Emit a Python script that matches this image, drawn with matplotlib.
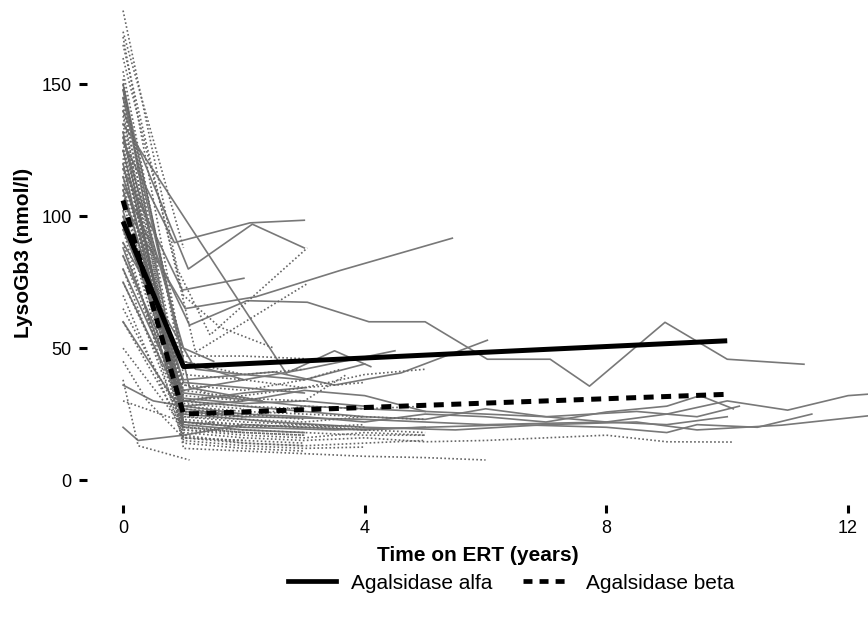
import matplotlib
matplotlib.use("Agg")
import matplotlib.pyplot as plt
from matplotlib.lines import Line2D

plt.rcParams['font.family'] = ['Liberation Sans', 'DejaVu Sans']

# Agalsidase alfa patients: time (years) and LysoGb3 (nmol/l)
alfa_x = [
    [0, 0.85, 2.1, 3.0],
    [0, 1.08, 2.14, 3.0],
    [0, 0.98, 2.0],
    [0, 1.03, 2.2, 3.6, 5.45],
    [0, 1.1, 2.05, 3.05, 4.07, 5.0, 6.03, 7.07, 7.72, 8.97, 10.0, 11.27],
    [0, 2.7, 3.5, 4.1],
    [0, 1.0, 2.5, 3.5, 4.6, 6.03],
    [0, 1.0, 2.0, 3.0, 4.5],
    [0, 1.0, 2.0, 3.0, 4.0, 5.0, 6.0, 7.0, 8.0, 9.0, 10.0, 11.0, 12.0, 12.6],
    [0, 1.0, 2.5, 4.0, 5.5, 7.0, 8.5, 9.5, 10.9, 12.6],
    [0, 1.0, 2.0, 3.0, 4.0, 5.0, 6.0, 7.0, 8.0, 9.0, 9.55, 10.1],
    [0, 1.0, 2.0, 3.5, 5.0, 6.5, 8.0, 9.0, 9.5, 10.5, 11.4],
    [0, 0.25, 1.0, 2.0, 3.0, 4.0, 5.0],
    [0, 1.0, 2.0],
    [0, 1.1, 2.3],
    [0, 1.0, 2.0, 3.0],
    [0, 0.9],
    [0, 1.2, 2.0, 3.0, 4.0],
    [0, 1.0, 2.0, 3.0, 4.0, 5.0],
    [0, 1.0, 3.0, 5.0, 7.0, 8.5, 9.5, 10.2],
    [0, 1.0, 2.0, 4.0, 6.0, 8.0, 9.0, 10.0],
    [0, 1.0, 1.5],
    [0, 0.5, 1.0],
    [0, 1.0, 2.0, 3.0],
    [0, 1.0, 2.0, 3.0, 4.0],
    [0, 1.0, 2.0],
    [0, 1.0, 2.0, 3.0],
]
alfa_y = [
    [128, 90, 97.5, 98.5],
    [140, 80, 97, 88],
    [118, 72, 76.5],
    [105, 65, 69.5, 79.5, 91.7],
    [112, 58.7, 68, 67.4, 60, 60, 45.8, 45.8, 35.6, 59.8, 45.8, 43.9],
    [135, 40.5, 49, 43],
    [95, 38, 41, 36, 40.6, 53],
    [85, 34, 38, 42, 49],
    [80, 30, 28, 26, 24, 23, 27, 24, 22, 25, 30, 26.5, 32, 33],
    [60, 25, 22, 20, 19, 21, 22, 19, 20.8, 25],
    [100, 28, 25, 24, 22, 25, 24, 22, 25.8, 28, 32, 27],
    [120, 22, 20, 19, 20, 21, 20, 18, 21, 20, 25],
    [20, 15, 17, 21, 20, 19, 20],
    [150, 45, 38],
    [145, 35, 30],
    [125, 30, 33, 35],
    [110, 40],
    [90, 42, 40, 38, 44],
    [75, 28, 30, 34, 32, 26],
    [98, 33, 28, 26, 24, 26, 24, 28],
    [88, 27, 24, 23, 21, 22, 21, 24],
    [130, 50, 45],
    [36, 30, 28],
    [115, 37, 35, 33],
    [102, 31, 29, 30, 28],
    [148, 26, 24],
    [132, 21, 19, 18],
]

# Agalsidase beta patients
beta_x = [
    [0, 0.9, 1.44, 3.05],
    [0, 1.2, 3.06],
    [0, 1.0, 1.6, 2.5],
    [0, 1.0, 2.0, 3.0, 4.0],
    [0, 1.0, 2.0, 3.0, 4.0, 5.0],
    [0, 1.0, 2.0, 3.0, 4.0, 5.0, 6.0, 7.0, 8.0, 9.0, 10.1],
    [0, 1.0, 2.0, 3.0, 4.0, 5.0, 6.0],
    [0, 0.25, 1.1],
    [0, 1.0, 2.0, 3.0],
    [0, 1.0, 2.0, 3.0, 4.0],
    [0, 1.0, 2.0],
    [0, 1.0, 2.0, 3.0],
    [0, 1.0, 2.0, 3.0, 4.0, 5.0],
    [0, 1.0, 2.0, 3.0, 4.0],
    [0, 1.0, 2.0],
    [0, 1.0, 1.5],
    [0, 1.0, 2.0, 3.0],
    [0, 1.0, 2.0, 3.0, 4.0],
    [0, 0.8, 1.5],
    [0, 1.0, 2.0, 3.0, 4.0, 5.0],
    [0, 1.0, 2.0],
    [0, 1.0, 2.0, 3.0],
    [0, 1.0],
    [0, 0.5, 1.0, 2.0],
    [0, 1.0, 2.0, 3.0, 4.0, 5.0],
    [0, 1.0, 2.0, 3.0],
    [0, 1.0],
    [0, 1.0, 2.0, 3.0],
    [0, 1.0, 2.0, 3.0],
    [0, 1.0, 2.0, 3.0, 4.0, 5.0],
    [0, 1.0, 2.0],
    [0, 0.4, 1.0, 2.0],
    [0, 1.0, 2.0, 3.0, 4.0],
    [0, 0.9, 2.0, 3.0],
    [0, 1.0, 2.0, 3.0, 4.0, 5.0],
    [0, 1.0, 2.0, 3.0, 3.7],
    [0, 1.0, 2.0, 3.0, 3.6],
    [0, 1.0, 2.0, 3.0, 4.0, 5.0],
    [0, 1.0, 2.0, 3.0],
    [0, 1.0, 2.0, 3.0, 4.0],
    [0, 1.0, 2.0],
]
beta_y = [
    [178, 80, 55, 88],
    [165, 48.5, 74.6],
    [160, 70, 58, 50],
    [155, 40, 38, 35, 37],
    [150, 30, 32, 35, 40, 42],
    [145, 18, 16, 15, 16, 14.5, 15, 16, 17, 14.5, 14.4],
    [140, 12, 11, 10, 9, 8.5, 7.6],
    [38, 13, 7.6],
    [135, 20, 18, 17],
    [130, 22, 20, 21, 19],
    [125, 25, 24],
    [120, 17, 14, 13],
    [115, 28, 26, 25, 24, 23],
    [110, 15, 13, 12, 12.5],
    [105, 32, 30],
    [100, 20, 22],
    [95, 14, 12, 11],
    [90, 24, 22, 21, 20],
    [85, 38, 32],
    [80, 19, 17, 16, 18, 17],
    [75, 26, 25],
    [70, 16, 15, 14],
    [65, 22],
    [50, 35, 20, 18],
    [125, 22, 21, 20, 19, 18],
    [142, 27, 25, 23],
    [170, 88],
    [168, 45, 40, 42],
    [148, 47, 47, 46],
    [60, 20, 19, 18, 17, 17],
    [30, 22, 20],
    [45, 30, 16, 15],
    [138, 24, 23, 22, 24],
    [152, 30, 28, 27],
    [128, 16, 14, 13, 14, 15],
    [122, 34, 31, 30, 40],
    [108, 36, 34, 38, 42],
    [118, 26, 24, 28, 27, 28],
    [132, 19, 18, 17],
    [112, 23, 21, 20, 21],
    [98, 29, 27],
]

# group means
mean_x = [0, 1, 10]
alfa_mean = [98, 43, 52.8]
beta_mean = [106, 25, 32.5]

x_ticks = [0, 4, 8, 12]
y_ticks = [0, 50, 100, 150]


fig = plt.figure(figsize=(8.68, 6.29), dpi=100)
ax = fig.add_axes([0.100, 0.197, 0.900, 0.803])

for xs, ys in zip(alfa_x, alfa_y):
    ax.plot(xs, ys, color="#787878", lw=1.2)
for xs, ys in zip(beta_x, beta_y):
    ax.plot(xs, ys, color="#666666", lw=1.2, linestyle=(0, (1, 1.4)))

ax.plot(mean_x, alfa_mean, color="black", lw=3.6, solid_capstyle="butt")
ax.plot(mean_x, beta_mean, color="black", lw=3.6, linestyle=(0, (2.0, 1.5)))

ax.set_xlim(-0.6, 12.33)
ax.set_ylim(-9.5, 182)
ax.set_xticks(x_ticks)
ax.set_yticks(y_ticks)
for s in ax.spines.values():
    s.set_visible(False)
ax.tick_params(axis="both", direction="out", length=6, width=2.2,
               color="black", labelsize=13, pad=5)

ax.set_xlabel("Time on ERT (years)", fontsize=15, fontweight="bold", labelpad=6)
ax.set_ylabel("LysoGb3 (nmol/l)", fontsize=15, fontweight="bold", labelpad=6)

handles = [Line2D([], [], color="black", lw=3.4),
           Line2D([], [], color="black", lw=3.4, linestyle=(0, (1.9, 1.5)))]
fig.legend(handles, ["Agalsidase alfa", "Agalsidase beta"], loc="center",
           bbox_to_anchor=(0.589, 0.073), ncol=2, frameon=False,
           fontsize=15, handlelength=2.3, columnspacing=1.5, handletextpad=0.7)

fig.savefig("out.png", dpi=100)
